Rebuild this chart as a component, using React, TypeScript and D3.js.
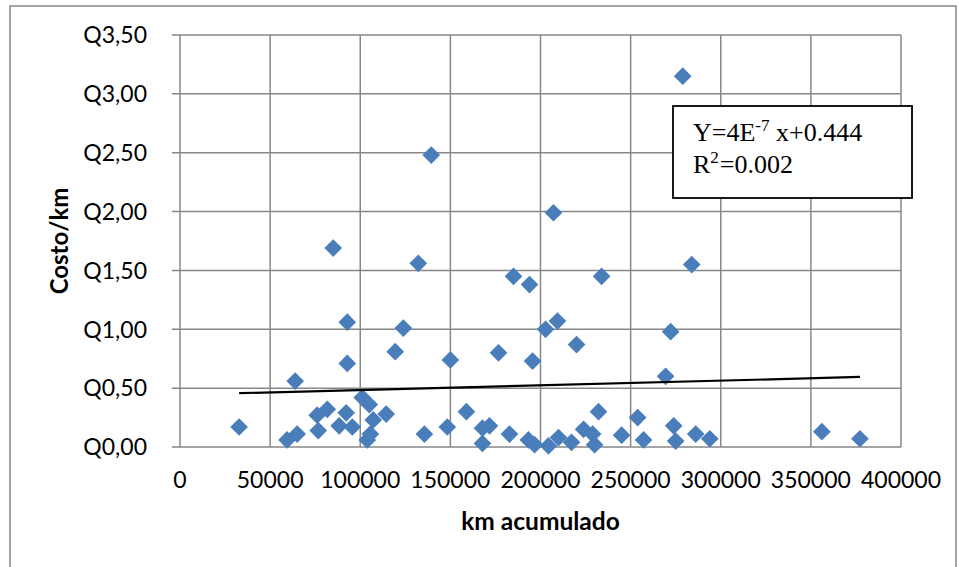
import React from "react";
import * as d3 from "d3";

const kmAcumulado = [
  32800, 59400, 63900, 65000, 76100, 76700, 81700, 85000, 88300, 92200,
  92800, 92800, 95600, 101100, 103900, 105000, 105600, 107200, 114400, 119400,
  123900, 132200, 135600, 139400, 148300, 150000, 158900, 167800, 167800, 171700,
  176700, 182800, 185000, 193900, 193300, 195600, 196700, 202800, 204400, 207200,
  209400, 210000, 217200, 220000, 223900, 228900, 230000, 232200, 233900, 245000,
  253900, 257200, 269400, 272200, 273900, 275000, 278900, 283900, 286100, 293900,
  356100, 377200,
];
const costoKm = [
  0.17, 0.06, 0.56, 0.11, 0.27, 0.14, 0.32, 1.69, 0.18, 0.29,
  1.06, 0.71, 0.17, 0.42, 0.06, 0.36, 0.11, 0.23, 0.28, 0.81,
  1.01, 1.56, 0.11, 2.48, 0.17, 0.74, 0.3, 0.16, 0.03, 0.18,
  0.8, 0.11, 1.45, 1.38, 0.06, 0.73, 0.02, 1.0, 0.01, 1.99,
  1.07, 0.08, 0.04, 0.87, 0.15, 0.11, 0.02, 0.3, 1.45, 0.1,
  0.25, 0.06, 0.6, 0.98, 0.18, 0.05, 3.15, 1.55, 0.11, 0.07,
  0.13, 0.07,
];
const xTicks = [0, 50000, 100000, 150000, 200000, 250000, 300000, 350000, 400000];
const yTicks = [0, 0.5, 1, 1.5, 2, 2.5, 3, 3.5];
const trendSlope = 4e-7;
const trendIntercept = 0.444;

const W = 959;
const H = 567;
const plot = { left: 180, right: 901, top: 35, bottom: 447 };
const gridColor = "#878787";
const markerColor = "#4A7EBB";
const tickFont = "Lato, 'Open Sans', sans-serif";
const serif = "'Liberation Serif', 'Times New Roman', serif";

export default function App() {
  const x = d3.scaleLinear().domain([0, 400000]).range([plot.left, plot.right]);
  const y = d3.scaleLinear().domain([0, 3.5]).range([plot.bottom, plot.top]);
  const fmtY = (v: number) => "Q" + d3.format(".2f")(v).replace(".", ",");
  const [xMin, xMax] = d3.extent(kmAcumulado) as [number, number];
  const trend = d3
    .line<number>()
    .x((d) => x(d))
    .y((d) => y(trendSlope * d + trendIntercept));
  const diamond = d3.symbol().type(d3.symbolDiamond2).size(200)();

  return (
    <svg
      width={W}
      height={H}
      style={{ position: "absolute", left: 0, top: 0, background: "#fff" }}
    >
      <rect x={10} y={6} width={946} height={570} fill="#fff" stroke="#888" strokeWidth={1.5} />
      {/* grid */}
      {yTicks.map((t) => (
        <line key={"gy" + t} x1={plot.left - 8} x2={plot.right} y1={y(t)} y2={y(t)} stroke={gridColor} strokeWidth={1.5} />
      ))}
      {xTicks.map((t) => (
        <line key={"gx" + t} x1={x(t)} x2={x(t)} y1={plot.top} y2={plot.bottom} stroke={gridColor} strokeWidth={1.5} />
      ))}
      {/* y tick labels */}
      {yTicks.map((t) => (
        <text key={"ty" + t} x={147} y={y(t)} dy="0.36em" textAnchor="end" fontFamily={tickFont} fontSize={23} fill="#000">
          {fmtY(t)}
        </text>
      ))}
      {xTicks.map((t) => (
        <text key={"tx" + t} x={x(t)} y={488} textAnchor="middle" fontFamily={tickFont} fontSize={23} fill="#000">
          {t}
        </text>
      ))}
      {/* axis titles */}
      <text x={(plot.left + plot.right) / 2} y={530} textAnchor="middle" fontFamily={tickFont} fontWeight="bold" fontSize={24.5} fill="#000">
        km acumulado
      </text>
      <text transform={`translate(68,${(plot.top + plot.bottom) / 2}) rotate(-90)`} textAnchor="middle" fontFamily={tickFont} fontWeight="bold" fontSize={24} fill="#000">
        Costo/km
      </text>
      {/* points */}
      {kmAcumulado.map((k, i) => (
        <path key={"p" + i} d={diamond as string} transform={`translate(${x(k)},${y(costoKm[i])})`} fill={markerColor} />
      ))}
      {/* trend line */}
      <path d={trend([xMin, xMax]) as string} fill="none" stroke="#000" strokeWidth={2.2} />
      {/* equation box */}
      <rect x={673} y={106} width={239} height={92} fill="#fff" stroke="#000" strokeWidth={1.8} />
      <text x={693} y={141} fontFamily={serif} fontSize={26} fill="#000">
        Y=4E<tspan dy={-10} fontSize={17}>-7</tspan>
        <tspan dy={10}> x+0.444</tspan>
      </text>
      <text x={693} y={173} fontFamily={serif} fontSize={26} fill="#000">
        R<tspan dy={-10} fontSize={17}>2</tspan>
        <tspan dy={10} dx={1}>=0.002</tspan>
      </text>
    </svg>
  );
}
